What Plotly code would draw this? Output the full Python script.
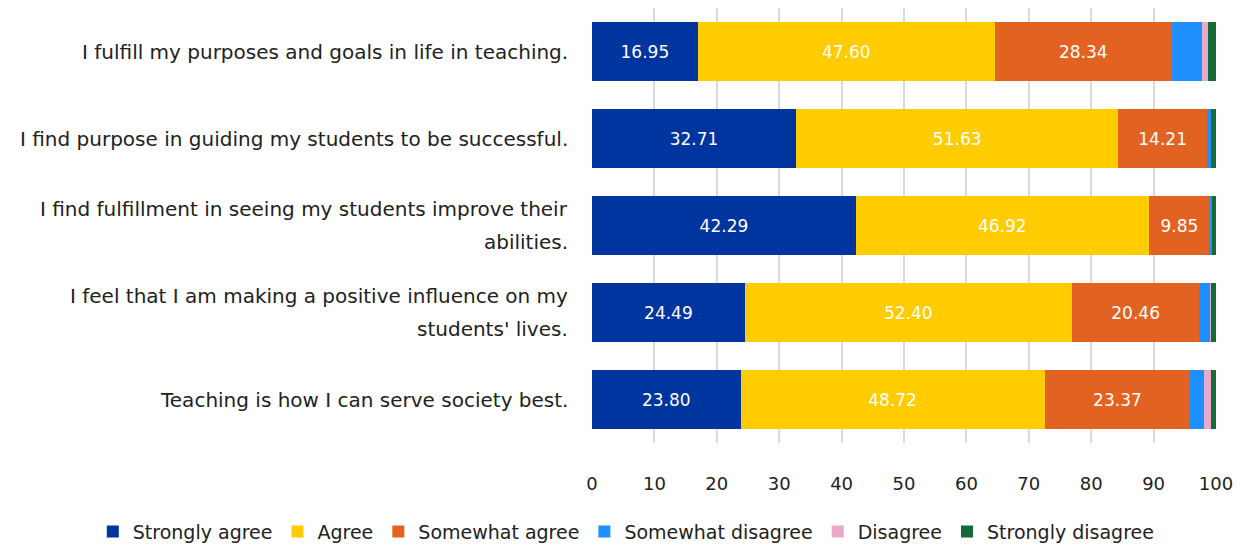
import plotly.graph_objects as go

# Survey statements (top to bottom as displayed); <br> marks a line break
statements = [
    "I fulfill my purposes and goals in life in teaching.",
    "I find purpose in guiding my students to be successful.",
    "I find fulfillment in seeing my students improve their<br>abilities.",
    "I feel that I am making a positive influence on my<br>students' lives.",
    "Teaching is how I can serve society best.",
]

# Percent of responses per category, one list per response level
strongly_agree = [16.95, 32.71, 42.29, 24.49, 23.80]
agree = [47.60, 51.63, 46.92, 52.40, 48.72]
somewhat_agree = [28.34, 14.21, 9.85, 20.46, 23.37]
somewhat_disagree = [4.86, 0.65, 0.30, 1.75, 2.20]
disagree = [0.98, 0.07, 0.05, 0.15, 1.16]
strongly_disagree = [1.27, 0.73, 0.59, 0.75, 0.75]

x_ticks = [0, 10, 20, 30, 40, 50, 60, 70, 80, 90, 100]

series = [
    ("Strongly agree", strongly_agree, "#00349e", True),
    ("Agree", agree, "#ffcc00", True),
    ("Somewhat agree", somewhat_agree, "#e26321", True),
    ("Somewhat disagree", somewhat_disagree, "#1e8fff", False),
    ("Disagree", disagree, "#e9a8cc", False),
    ("Strongly disagree", strongly_disagree, "#166a35", False),
]

FONT = "DejaVu Sans, sans-serif"
TEXT_COLOR = "#222222"

fig = go.Figure()
for name, vals, color, labelled in series:
    fig.add_trace(
        go.Bar(
            name=name,
            y=statements,
            x=vals,
            orientation="h",
            marker=dict(color=color, line=dict(width=0)),
            text=[f"{v:.2f}" for v in vals] if labelled else None,
            textposition="inside" if labelled else "none",
            insidetextanchor="middle",
            textfont=dict(color="white", size=17, family=FONT),
            hoverinfo="x+name",
        )
    )

# Category labels drawn as right-aligned annotations so that wrapped
# statements get a more open line spacing
LINE_GAP = 33
for stmt in statements:
    lines = stmt.split("<br>")
    n = len(lines)
    for i, line in enumerate(lines):
        fig.add_annotation(
            text=line,
            xref="paper",
            x=0,
            xanchor="right",
            xshift=-22,
            yref="y",
            y=stmt,
            yanchor="middle",
            yshift=((n - 1) / 2 - i) * LINE_GAP,
            showarrow=False,
            font=dict(size=20, color=TEXT_COLOR, family=FONT),
        )

fig.update_layout(
    barmode="stack",
    bargap=0.32,
    width=1244,
    height=546,
    margin=dict(l=592, r=28, t=8, b=103, autoexpand=False),
    paper_bgcolor="white",
    plot_bgcolor="white",
    font=dict(family=FONT, color=TEXT_COLOR, size=18),
    uniformtext=dict(mode="show", minsize=10),
    legend=dict(
        orientation="h",
        xref="paper",
        yref="paper",
        x=-0.80,
        xanchor="left",
        y=-0.16,
        yanchor="top",
        font=dict(size=19, color=TEXT_COLOR, family=FONT),
        traceorder="normal",
        itemwidth=30,
    ),
    xaxis=dict(
        range=[0, 100],
        tickvals=x_ticks,
        showgrid=True,
        gridcolor="#d9d9d9",
        gridwidth=2,
        zeroline=False,
        showline=False,
        ticks="outside",
        ticklen=24,
        tickcolor="rgba(0,0,0,0)",
        tickfont=dict(size=18, color=TEXT_COLOR, family=FONT),
        fixedrange=True,
    ),
    yaxis=dict(
        autorange="reversed",
        showgrid=False,
        showticklabels=False,
        fixedrange=True,
    ),
)

fig.write_html("out.html")
